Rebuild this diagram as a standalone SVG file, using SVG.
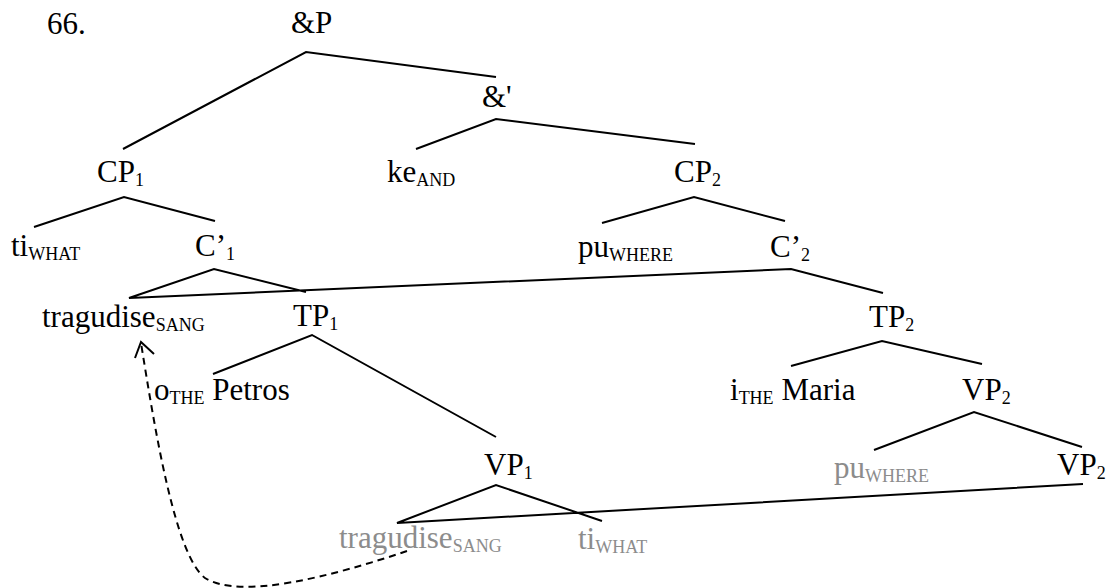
<svg xmlns="http://www.w3.org/2000/svg" width="1111" height="588" viewBox="0 0 1111 588">
<style>
text{font-size:31px;fill:#000}
.s{font-size:18px}
.g{fill:#8c8c8c}
.e{stroke:#000;stroke-width:2;fill:none}
.d{stroke:#000;stroke-width:2;fill:none;stroke-dasharray:7 5}
</style>
<rect width="1111" height="588" fill="#fff"/>
<g font-family="Liberation Serif">
<text x="47" y="34">66.</text>
<g id="andP"><text x="291" y="33">&amp;P</text></g>
<g id="andbar"><text x="482" y="107">&amp;'</text></g>
<g id="CP1"><text x="97" y="182">CP<tspan class="s" dy="4">1</tspan></text></g>
<g id="ke"><text x="387" y="182">ke<tspan class="s" dy="4">AND</tspan></text></g>
<g id="CP2"><text x="674" y="182">CP<tspan class="s" dy="4">2</tspan></text></g>
<g id="ti1"><text x="11" y="256">ti<tspan class="s" dy="4">WHAT</tspan></text></g>
<g id="C1"><text x="195" y="256">C’<tspan class="s" dy="4">1</tspan></text></g>
<g id="pu1"><text x="578" y="257">pu<tspan class="s" dy="4">WHERE</tspan></text></g>
<g id="C2"><text x="770" y="257">C’<tspan class="s" dy="4">2</tspan></text></g>
<g id="trag1"><text x="42" y="327">tragudise<tspan class="s" dy="4">SANG</tspan></text></g>
<g id="TP1"><text x="293" y="326">TP<tspan class="s" dy="4">1</tspan></text></g>
<g id="TP2"><text x="869" y="327">TP<tspan class="s" dy="4">2</tspan></text></g>
<g id="petros"><text x="154" y="400">o<tspan class="s" dy="4">THE</tspan><tspan dy="-4"> Petros</tspan></text></g>
<g id="maria"><text x="730" y="400">i<tspan class="s" dy="4">THE</tspan><tspan dy="-4"> Maria</tspan></text></g>
<g id="VP2a"><text x="962" y="400">VP<tspan class="s" dy="4">2</tspan></text></g>
<g id="VP1"><text x="484" y="475">VP<tspan class="s" dy="4">1</tspan></text></g>
<g id="pu2"><text class="g" x="834" y="478">pu<tspan class="s" dy="4">WHERE</tspan></text></g>
<g id="VP2b"><text x="1057" y="475">VP<tspan class="s" dy="4">2</tspan></text></g>
<g id="trag2"><text class="g" x="339" y="548">tragudise<tspan class="s" dy="4">SANG</tspan></text></g>
<g id="ti2"><text class="g" x="578" y="549">ti<tspan class="s" dy="4">WHAT</tspan></text></g>
</g>
<g id="connectors">
<path class="e" d="M123 149L306 52L496 77"/>
<path class="e" d="M416 149L496 119L695 144"/>
<path class="e" d="M34 227L124 197L215 221"/>
<path class="e" d="M602 223L694 197L785 221"/>
<path class="e" d="M306 292L214 269L129 298L791 269L883 293"/>
<path class="e" d="M213 374L312 335L496 437"/>
<path class="e" d="M791 366L882 341L982 364"/>
<path class="e" d="M874 450L974 412L1082 447"/>
<path class="e" d="M602 521L496 485L397 523L1083 484"/>
<path class="d" d="M407 551C330 577 240 600 205 578C175 555 155 430 141 343"/>
<path class="e" d="M135 358L141 342L154 354"/>
</g>
</svg>
